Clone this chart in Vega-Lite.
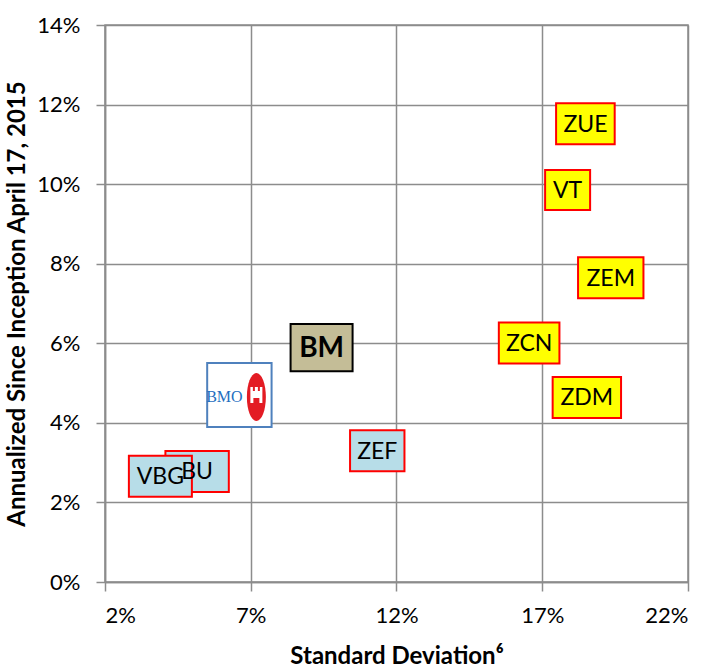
{
  "$schema": "https://vega.github.io/schema/vega-lite/v6.json",
  "autosize": "none",
  "width": 583,
  "height": 557,
  "padding": {"left": 105, "top": 25, "right": 23, "bottom": 87},
  "background": "white",
  "config": {
    "font": "Lato",
    "view": {"stroke": "#8c8c8c", "strokeWidth": 1.5},
    "axis": {
      "grid": true,
      "gridColor": "#8c8c8c",
      "gridWidth": 1.5,
      "domainColor": "#8c8c8c",
      "domainWidth": 1.5,
      "tickColor": "#8c8c8c",
      "tickWidth": 1.5,
      "tickSize": 9,
      "labelFont": "Lato",
      "labelFontSize": 22,
      "labelColor": "#000000",
      "titleFont": "Lato",
      "titleFontSize": 24,
      "titleFontWeight": "bold",
      "titleColor": "#000000"
    }
  },
  "data": {
    "values": [
      {"label": "ZUE", "sd": 0.1848, "ret": 0.1152},
      {"label": "VT", "sd": 0.1787, "ret": 0.0985},
      {"label": "ZEM", "sd": 0.1935, "ret": 0.0765},
      {"label": "ZCN", "sd": 0.1655, "ret": 0.0601},
      {"label": "ZDM", "sd": 0.1853, "ret": 0.0464},
      {"label": "ZEF", "sd": 0.1134, "ret": 0.033},
      {"label": "BU", "sd": 0.0516, "ret": 0.0278},
      {"label": "VBG", "sd": 0.039, "ret": 0.0266},
      {"label": "BM", "sd": 0.0943, "ret": 0.0589},
      {"label": "BMO", "sd": 0.0661, "ret": 0.047}
    ]
  },
  "encoding": {
    "x": {
      "field": "sd",
      "type": "quantitative",
      "scale": {"domain": [0.02, 0.22], "nice": false, "zero": false},
      "axis": {
        "values": [0.02, 0.07, 0.12, 0.17, 0.22],
        "format": ".0%",
        "labelPadding": 14,
        "title": "Standard Deviation⁶",
        "titleX": 291.5,
        "titleY": 74,
        "titleBaseline": "middle"
      }
    },
    "y": {
      "field": "ret",
      "type": "quantitative",
      "scale": {"domain": [0, 0.14], "nice": false},
      "axis": {
        "values": [0, 0.02, 0.04, 0.06, 0.08, 0.1, 0.12, 0.14],
        "format": ".0%",
        "labelPadding": 16,
        "title": "Annualized Since Inception April 17, 2015",
        "titleX": -88,
        "titleY": 278.5,
        "titleAngle": -90,
        "titleBaseline": "middle",
        "titleAlign": "center"
      }
    }
  },
  "layer": [
    {
      "mark": {"type": "point", "filled": true, "opacity": 1, "size": 4, "strokeWidth": 2},
      "encoding": {
        "shape": {
          "field": "label",
          "type": "nominal",
          "legend": null,
          "scale": {
            "domain": ["ZUE", "VT", "ZEM", "ZCN", "ZDM", "ZEF", "BU", "VBG", "BM", "BMO"],
            "range": [
              "M-29.3,-20.5H29.3V20.5H-29.3Z",
              "M-22.5,-20H22.5V20H-22.5Z",
              "M-32.7,-20.5H32.7V20.5H-32.7Z",
              "M-30.3,-20.5H30.3V20.5H-30.3Z",
              "M-34.2,-20.5H34.2V20.5H-34.2Z",
              "M-27.2,-20.5H27.2V20.5H-27.2Z",
              "M-31.7,-20.5H31.7V20.5H-31.7Z",
              "M-31.5,-20.5H31.5V20.5H-31.5Z",
              "M-31,-23.7H31V23.7H-31Z",
              "M-32.2,-32H32.2V32H-32.2Z"
            ]
          }
        },
        "fill": {
          "field": "label",
          "type": "nominal",
          "legend": null,
          "scale": {
            "domain": ["ZUE", "VT", "ZEM", "ZCN", "ZDM", "ZEF", "BU", "VBG", "BM", "BMO"],
            "range": ["#FFFF00", "#FFFF00", "#FFFF00", "#FFFF00", "#FFFF00", "#B7DDE8", "#B7DDE8", "#B7DDE8", "#C4BD97", "#FFFFFF"]
          }
        },
        "stroke": {
          "field": "label",
          "type": "nominal",
          "legend": null,
          "scale": {
            "domain": ["ZUE", "VT", "ZEM", "ZCN", "ZDM", "ZEF", "BU", "VBG", "BM", "BMO"],
            "range": ["#FF0000", "#FF0000", "#FF0000", "#FF0000", "#FF0000", "#FF0000", "#FF0000", "#FF0000", "#000000", "#4F81BD"]
          }
        }
      }
    },
    {
      "transform": [{"filter": "datum.label != 'BM' && datum.label != 'BMO'"}],
      "mark": {"type": "text", "font": "Lato", "fontSize": 23, "color": "#000000", "baseline": "middle", "align": "center", "dy": 1},
      "encoding": {"text": {"field": "label", "type": "nominal"}}
    },
    {
      "transform": [{"filter": "datum.label == 'BM'"}],
      "mark": {"type": "text", "font": "Lato", "fontSize": 28, "fontWeight": "bold", "color": "#000000", "baseline": "middle", "align": "center", "dy": 1},
      "encoding": {"text": {"field": "label", "type": "nominal"}}
    },
    {
      "transform": [{"filter": "datum.label == 'BMO'"}],
      "mark": {"type": "text", "font": "Liberation Serif", "fontSize": 16, "color": "#1F6FBF", "baseline": "middle", "align": "center", "dx": -15, "dy": 2},
      "encoding": {"text": {"field": "label", "type": "nominal"}}
    },
    {
      "transform": [{"filter": "datum.label == 'BMO'"}],
      "mark": {"type": "point", "filled": true, "opacity": 1, "size": 4, "color": "#E31B23", "strokeWidth": 0, "shape": "M7.5,2A9.5,24 0 1,0 26.5,2A9.5,24 0 1,0 7.5,2Z"},
      "encoding": {}
    },
    {
      "transform": [{"filter": "datum.label == 'BMO'"}],
      "mark": {"type": "point", "filled": true, "opacity": 1, "size": 4, "color": "#FFFFFF", "strokeWidth": 0, "shape": "M11,8V-8H13.5V-4H15.5V-8H18.5V-4H20.5V-8H23V8H20V3H14V8Z"},
      "encoding": {}
    }
  ]
}
